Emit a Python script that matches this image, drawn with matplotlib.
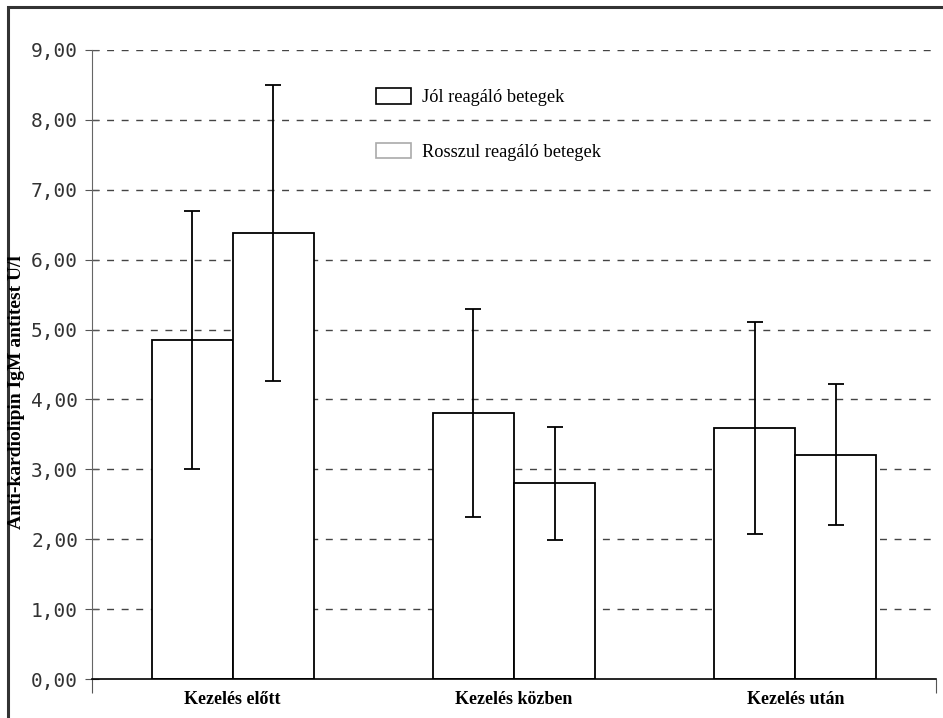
import matplotlib.pyplot as plt
import numpy as np
from matplotlib.patches import Patch, Rectangle
from matplotlib.ticker import FuncFormatter

# values
categories = ['Kezelés előtt', 'Kezelés közben', 'Kezelés után']
jol = [4.85, 3.81, 3.59]
jol_err = [1.84, 1.49, 1.52]
rossz = [6.38, 2.80, 3.21]
rossz_err = [2.12, 0.81, 1.01]
labels = ['Jól reagáló betegek', 'Rosszul reagáló betegek']

fig = plt.figure(figsize=(9.43, 7.18), dpi=100)
ax = fig.add_axes([92/943, 1-679/718, (936-92)/943, (679-50)/718])

x = np.arange(len(categories))
w = 0.288

# grid first, behind bars
for yv in range(1, 10):
    ax.axhline(yv, color='#444444', lw=1.0, ls=(0, (5, 5.5)), zorder=0)

ax.bar(x - w/2, jol, w, color='white', edgecolor='black', lw=1.3, zorder=2)
ax.bar(x + w/2, rossz, w, color='white', edgecolor='black', lw=1.3, zorder=2)
ax.errorbar(x - w/2, jol, yerr=jol_err, fmt='none', ecolor='black',
            elinewidth=1.3, capsize=6, capthick=1.3, zorder=3)
ax.errorbar(x + w/2, rossz, yerr=rossz_err, fmt='none', ecolor='black',
            elinewidth=1.3, capsize=6, capthick=1.3, zorder=3)

ax.set_xlim(-0.5, 2.5)
ax.set_ylim(0, 9)
ax.set_yticks(range(10))
ax.yaxis.set_major_formatter(FuncFormatter(lambda v, p: f'{v:.2f}'.replace('.', ',')))
ax.tick_params(axis='y', direction='inout', length=10, width=0.8, color='#555555',
               labelsize=14, pad=5)
for t in ax.get_yticklabels():
    t.set_family('DejaVu Sans Mono')
    t.set_color('#333333')

ax.set_xticks(x)
ax.set_xticklabels(categories, fontfamily='Liberation Serif', fontweight='bold',
                   fontsize=13)
ax.tick_params(axis='x', length=0, pad=9)
ax.set_xticks([-0.5, 2.5], minor=True)
ax.tick_params(axis='x', which='minor', direction='out', length=10, width=0.8,
               color='#555555')

for s in ['top', 'right']:
    ax.spines[s].set_visible(False)
ax.spines['left'].set_color('#666666')
ax.spines['left'].set_linewidth(0.8)
ax.spines['bottom'].set_color('black')
ax.spines['bottom'].set_linewidth(1.2)

handles = [Patch(facecolor='white', edgecolor='black', lw=1.2),
           Patch(facecolor='white', edgecolor='#aaaaaa', lw=1.2)]
fig.legend(handles, labels, loc='upper left', bbox_to_anchor=(376/943, 1-88/718),
           frameon=False, prop={'family': 'Liberation Serif', 'size': 13.2},
           handlelength=1.91, handleheight=0.93, handletextpad=0.6,
           labelspacing=2.0, borderpad=0, borderaxespad=0)

fig.text(17/943, 1-392/718, 'Anti-kardiolipin IgM antitest U/l', rotation=90,
         va='center', ha='center', fontfamily='Liberation Serif',
         fontweight='bold', fontsize=14)

# outer frame
fig.patches.append(Rectangle((8/943, -0.1), 1.2, 1-7/718+0.1, transform=fig.transFigure,
                             fill=False, edgecolor='#333333', lw=2.2, zorder=0))

fig.savefig('out.png', dpi=100)
